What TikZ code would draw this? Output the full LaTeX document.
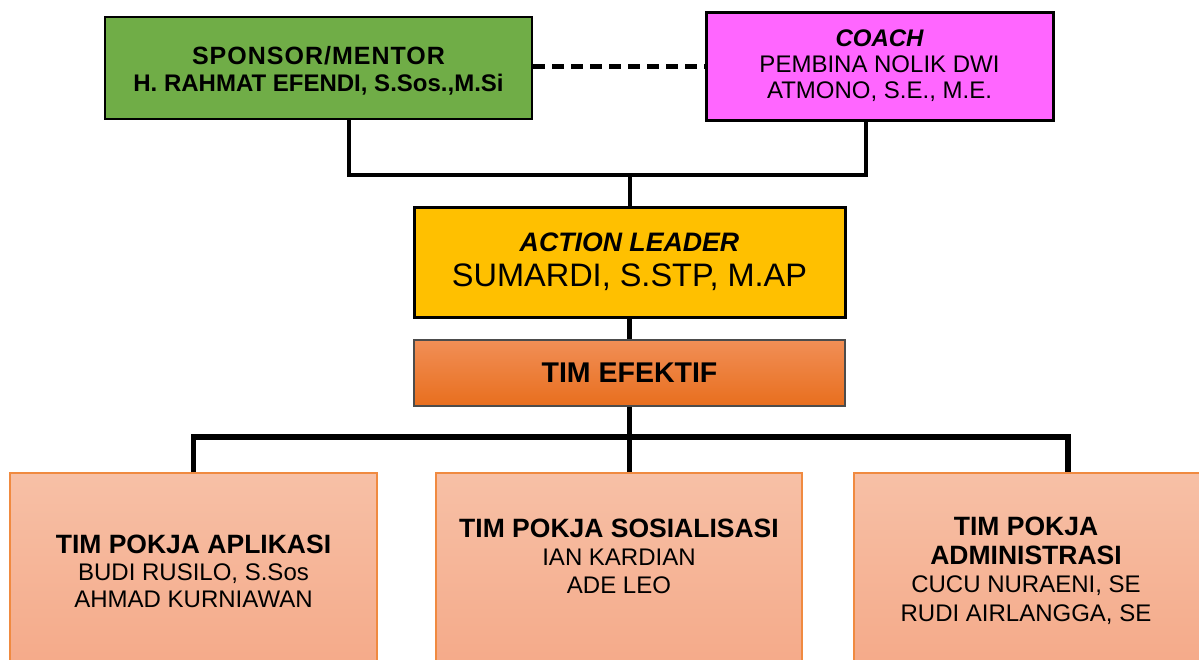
\documentclass[tikz,border=0pt]{standalone}
\usepackage{fontspec}
\setmainfont{Liberation Sans}
\definecolor{sgreen}{HTML}{70AD47}
\definecolor{cpink}{HTML}{FF66FF}
\definecolor{ayellow}{HTML}{FFC000}
\definecolor{efTop}{RGB}{241,143,86}
\definecolor{efBot}{RGB}{232,110,30}
\definecolor{pkTop}{RGB}{247,192,166}
\definecolor{pkBot}{RGB}{244,166,132}
\definecolor{pkLine}{RGB}{240,138,64}
\begin{document}
\begin{tikzpicture}[x=1pt,y=-1pt,
  topbox/.style={draw=black, line width=3pt, inner sep=0pt, align=center},
  pokja/.style={draw=pkLine, line width=1.5pt, top color=pkTop, bottom color=pkBot, inner sep=0pt, minimum height=227pt},
  pokjatext/.style={inner sep=0pt, align=center},
  conn/.style={line width=4pt},
  busline/.style={line width=5.5pt},
  dashline/.style={line width=5pt, dash pattern=on 12pt off 7pt}]
\useasboundingbox (0,0) rectangle (1199,659);
\clip (0,0) rectangle (1199,659);

% top boxes
\node[topbox, fill=sgreen, line width=2.5pt, minimum width=427pt, minimum height=102pt] (sponsor) at (318.5,68) {};
\node[inner sep=0pt, align=center, font=\fontsize{24}{27}\selectfont\bfseries] (sponsorT) at (318.5,71)
  {{\fontsize{25}{27}\selectfont\addfontfeatures{LetterSpace=4}SPONSOR/MENTOR}\\H. RAHMAT EFENDI, S.Sos.,M.Si};
\node[topbox, fill=cpink, minimum width=347pt, minimum height=108pt,
      font=\fontsize{24}{26}\selectfont] (coach) at (879.5,66)
  {{\bfseries\itshape COACH}\\PEMBINA NOLIK DWI\\ATMONO, S.E., M.E.};

% action leader and tim efektif
\node[topbox, fill=ayellow, minimum width=431pt, minimum height=110pt,
      font=\fontsize{32.5}{35}\selectfont] (action) at (629.5,262)
  {{\fontsize{26.7}{35}\selectfont\bfseries\itshape ACTION LEADER}\\SUMARDI, S.STP, M.AP};
\node[draw=black!70, line width=1.5pt, top color=efTop, bottom color=efBot, inner sep=0pt,
      minimum width=431pt, minimum height=66pt, font=\fontsize{28.5}{30}\selectfont\bfseries] (efektif) at (629.5,373)
  {TIM EFEKTIF};

% bottom boxes
\node[pokja, minimum width=367pt] (aplikasi) at (193.5,586.5) {};
\node[pokja, minimum width=366pt] (sosial) at (619,586.5) {};
\node[pokja, minimum width=351pt] (admin) at (1029.5,586.5) {};

\node[pokjatext, font=\fontsize{24}{27}\selectfont] (aplikasiT) at (193.5,571)
  {{\fontsize{26.5}{27}\selectfont\bfseries TIM POKJA APLIKASI}\\BUDI RUSILO, S.Sos\\AHMAD KURNIAWAN};
\node[pokjatext, font=\fontsize{24}{28}\selectfont] (sosialT) at (619,556)
  {{\fontsize{26.5}{28}\selectfont\bfseries TIM POKJA SOSIALISASI}\\IAN KARDIAN\\ADE LEO};
\node[pokjatext, font=\fontsize{24}{28.5}\selectfont] (adminT) at (1026,571)
  {{\fontsize{26.5}{28.5}\selectfont\bfseries TIM POKJA}\\{\fontsize{26.5}{28.5}\selectfont\bfseries ADMINISTRASI}\\CUCU NURAENI, SE\\RUDI AIRLANGGA, SE};

% helper coordinates
\coordinate (topbar) at (0,175);
\coordinate (bus) at (0,437);
\coordinate (spT) at ([xshift=30.5pt]sponsor.south);
\coordinate (coT) at ([xshift=-13.5pt]coach.south);
\coordinate (adT) at ([xshift=38.5pt]admin.north);

% connectors
\draw[dashline] (sponsor.east |- coach.west) -- (coach.west);
\draw[conn] (spT) |- (coT |- topbar) -- (coT);
\draw[conn] (action.north) -- (action.north |- topbar);
\draw[conn, line width=4.5pt] (action.south) -- (efektif.north);
\draw[busline] (efektif.south) -- (efektif.south |- sosial.north);
\draw[busline] (aplikasi.north) |- (adT |- bus) -- (adT);
\end{tikzpicture}
\end{document}
